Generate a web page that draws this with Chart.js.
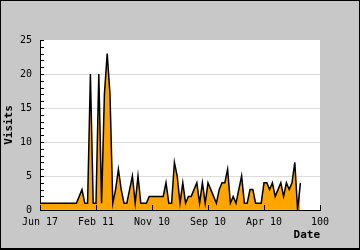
<!DOCTYPE html>
<html>
<head>
<meta charset="utf-8">
<script src="https://cdn.jsdelivr.net/npm/chart.js@4"></script>
<style>
  body { margin: 0; background: #fff; }
  canvas { display: block; }
</style>
</head>
<body>
<canvas id="grafico" width="360" height="250"></canvas>
<script>
// visits per day
const visits = [1, 1, 1, 1, 1, 1, 1, 1, 1, 1, 1, 1, 1, 1, 2, 3, 1, 1, 20, 1,
    1, 20, 1, 17, 23, 17, 1, 3, 6, 3, 1, 1, 3, 5, 1, 5, 1, 1, 1, 2,
    2, 2, 2, 2, 2, 4, 1, 1, 7, 5, 1, 4, 1, 2, 2, 3, 4, 1, 4, 1,
    4, 3, 2, 1, 3, 4, 4, 6, 1, 2, 1, 3, 5, 1, 1, 3, 3, 1, 1, 1,
    4, 4, 3, 4, 2, 3, 4, 2, 4, 3, 4, 7, 0, 4];
const tickLabels = ['Jun 17', 'Feb 11', 'Nov 10', 'Sep 10', 'Apr 10', '100'];

const fuente = 'DejaVu Sans Mono';

// fondo gris, area blanca, borde negro y marcas hacia adentro
const decoracion = {
    id: 'decoracion',
    beforeDraw(chart) {
        const { ctx, chartArea: a } = chart;
        ctx.save();
        ctx.fillStyle = '#c8c8c8';
        ctx.fillRect(0, 0, chart.width, chart.height);
        ctx.fillStyle = '#ffffff';
        ctx.fillRect(a.left, a.top, a.right - a.left, a.bottom - a.top);
        ctx.restore();
    },
    afterDraw(chart) {
        const { ctx, chartArea: a } = chart;
        const x = chart.scales.x, y = chart.scales.y;
        ctx.save();
        ctx.strokeStyle = '#000';
        ctx.lineWidth = 1;
        ctx.beginPath();
        y.ticks.forEach(t => {
            const py = Math.round(y.getPixelForValue(t.value)) + 0.5;
            ctx.moveTo(a.left, py);
            ctx.lineTo(a.left + 4, py);
        });
        x.ticks.forEach(t => {
            const px = Math.round(x.getPixelForValue(t.value)) + 0.5;
            ctx.moveTo(px, a.bottom);
            ctx.lineTo(px, a.bottom - 5);
        });
        ctx.stroke();
        ctx.fillStyle = '#000';
        ctx.fillRect(0, 0, chart.width, 1);
        ctx.fillRect(0, 0, 1, chart.height);
        ctx.fillRect(chart.width - 1, 0, 1, chart.height);
        ctx.fillRect(0, chart.height - 2, chart.width, 2);
        ctx.restore();
    }
};

new Chart(document.getElementById('grafico'), {
    type: 'line',
    data: {
        datasets: [{
            label: 'Visits',
            data: visits.map((v, i) => ({ x: i, y: v })),
            borderColor: '#000000',
            borderWidth: 1.5,
            backgroundColor: '#ffa500',
            fill: 'origin',
            pointRadius: 0,
            tension: 0
        }]
    },
    options: {
        responsive: false,
        animation: false,
        layout: { padding: { top: 40, right: 40, left: 0, bottom: 0 } },
        plugins: { legend: { display: false }, tooltip: { enabled: false } },
        scales: {
            x: {
                type: 'linear',
                min: 0,
                max: 100,
                afterFit: s => { s.height = 40; },
                grid: { display: false, drawTicks: false },
                border: { display: true, color: '#000', width: 1 },
                ticks: {
                    stepSize: 20,
                    padding: 6,
                    color: '#000',
                    font: { family: fuente, size: 10 },
                    maxRotation: 0,
                    callback: v => tickLabels[v / 20]
                },
                title: {
                    display: true,
                    text: 'Date',
                    align: 'end',
                    color: '#000',
                    font: { family: fuente, size: 11, weight: 'bold' },
                    padding: { top: 0, bottom: 8 }
                }
            },
            y: {
                min: 0,
                max: 25,
                afterFit: s => { s.width = 40; },
                grid: {
                    drawTicks: false,
                    color: c => (c.tick.value % 5 === 0 && c.tick.value > 0 && c.tick.value < 25) ? '#dcdcdc' : 'rgba(0,0,0,0)'
                },
                border: { display: true, color: '#000', width: 1 },
                ticks: {
                    stepSize: 1,
                    autoSkip: false,
                    padding: 8,
                    color: '#000',
                    font: { family: fuente, size: 10 },
                    callback: v => (v % 5 === 0 ? v : '')
                },
                title: {
                    display: true,
                    text: 'Visits',
                    color: '#000',
                    font: { family: fuente, size: 11, weight: 'bold' },
                    padding: { top: 3, bottom: 0 }
                }
            }
        }
    },
    plugins: [decoracion]
});
</script>
</body>
</html>
